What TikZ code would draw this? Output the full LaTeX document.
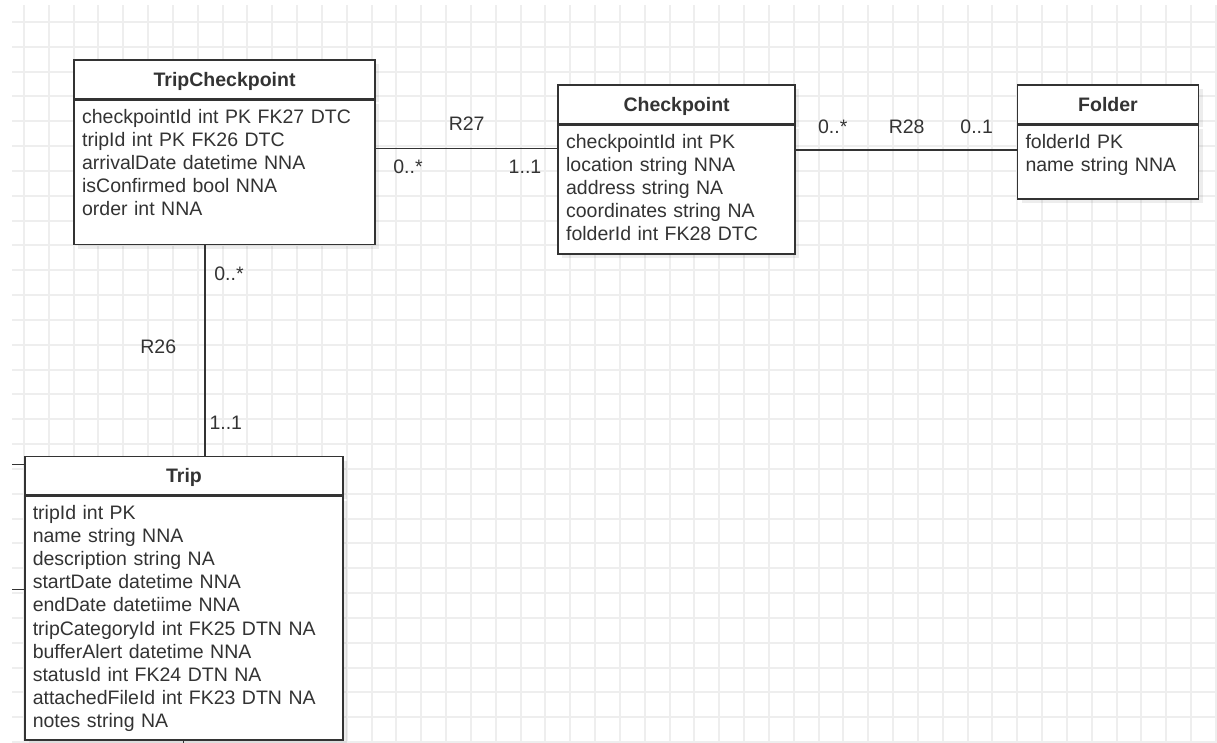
\documentclass[tikz,border=0pt]{standalone}
\usepackage{fontspec}
\setmainfont{Liberation Sans}
\usepackage{xcolor}
\usetikzlibrary{positioning,shadows}
\definecolor{inkgray}{HTML}{333333}
\definecolor{gridgray}{HTML}{EEEEEE}

\begin{document}
\begin{tikzpicture}[
  x=1pt, y=-1pt,
  font=\fontsize{19.5}{23.1}\selectfont, text=inkgray,
  gridline/.style={draw=gridgray, line width=2pt},
  entity/.style={draw=inkgray, line width=1.6pt, fill=white, anchor=north west,
    minimum height=38.4pt, inner sep=0pt, text height=14pt, text depth=0pt,
    font=\fontsize{19.5}{23.1}\selectfont\bfseries,
    drop shadow={shadow xshift=4pt, shadow yshift=-4pt, fill=black, opacity=0.07}},
  attrs/.style={draw=inkgray, line width=1.6pt, fill=white, align=left,
    inner xsep=8pt, inner ysep=8pt, text height=15pt,
    drop shadow={shadow xshift=4pt, shadow yshift=-4pt, fill=black, opacity=0.07}},
  link/.style={draw=inkgray, line width=1.3pt},
  mult/.style={inner sep=0pt}
]
\useasboundingbox (0,0) rectangle (1217,743);

% background grid
\foreach \k in {0,...,48}
  \draw[gridline] ({round(24+24.83*\k)},5) -- ({round(24+24.83*\k)},743);
\foreach \k in {0,...,29}
  \draw[gridline] (12,{round(22+24.83*\k)}) -- (1217,{round(22+24.83*\k)});

% entities
\node[entity, minimum width=301pt] (tcHead) at (73.3,59.3) {TripCheckpoint};
\node[attrs, text width=285pt, text depth=113.6pt, below=0pt of tcHead] (tcBody)
  {checkpointId int PK FK27 DTC\\tripId int PK FK26 DTC\\arrivalDate datetime NNA\\isConfirmed bool NNA\\order int NNA};

\node[entity, minimum width=237pt] (cpHead) at (557.3,84.3) {Checkpoint};
\node[attrs, text width=221pt, text depth=97.7pt, below=0pt of cpHead] (cpBody)
  {checkpointId int PK\\location string NNA\\address string NA\\coordinates string NA\\folderId int FK28 DTC};

\node[entity, minimum width=181pt] (folderHead) at (1016.7,84.3) {Folder};
\node[attrs, text width=165pt, text depth=43pt, below=0pt of folderHead] (folderBody)
  {folderId PK\\name string NNA};

\node[entity, minimum width=318.3pt] (tripHead) at (24,455.7) {Trip};
\node[attrs, text width=302.3pt, text depth=212.3pt, below=0pt of tripHead] (tripBody)
  {tripId int PK\\name string NNA\\description string NA\\startDate datetime NNA\\endDate datetiime NNA\\tripCategoryId int FK25 DTN NA\\bufferAlert datetime NNA\\statusId int FK24 DTN NA\\attachedFileId int FK23 DTN NA\\notes string NA};

% relations
\coordinate (r27) at (466,148.5);
\coordinate (r28) at (906,150);
\coordinate (r26) at (205,350);
\draw[link] (tcBody.east |- r27) -- (cpBody.west |- r27);
\draw[link] (cpBody.east |- r28) -- (folderBody.west |- r28);
\draw[link] (tcBody.south -| r26) -- (tripHead.north -| r26);

% stubs to entities outside the view
\coordinate (stubA) at (12,464.3);
\coordinate (stubB) at (12,589.3);
\coordinate (stubC) at (183.3,743);
\draw[link] (stubA) -- (stubA -| tripHead.west);
\draw[link] (stubB) -- (stubB -| tripBody.west);
\draw[link] (tripBody.south -| stubC) -- (stubC);

% labels
\node[mult] (r27Name) at (466.7,123.3) {R27};
\node[mult] (r27Src) at (408,166.7) {0..*};
\node[mult] (r27Dst) at (525,166.7) {1..1};
\node[mult] (r28Src) at (832.7,126.7) {0..*};
\node[mult] (r28Name) at (906.7,126.7) {R28};
\node[mult] (r28Dst) at (976.7,126.7) {0..1};
\node[mult] (r26Src) at (229,273.3) {0..*};
\node[mult] (r26Name) at (158.3,346.7) {R26};
\node[mult] (r26Dst) at (225.8,422.7) {1..1};
\end{tikzpicture}
\end{document}
